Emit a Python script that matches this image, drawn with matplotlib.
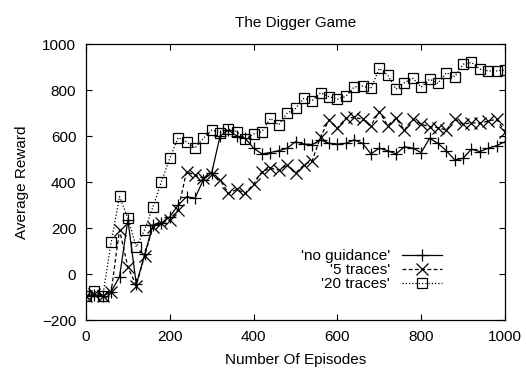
import numpy as np
import matplotlib
matplotlib.use("Agg")
import matplotlib.pyplot as plt

plt.rcParams['font.family'] = ['Liberation Sans', 'DejaVu Sans']

episodes = list(range(0, 1001, 20))

no_guidance = [-96, -90, -95, -77, -12, 235, -45, 85, 215, 220,
               249, 300, 336, 329, 410, 440, 600, 625, 600, 590,
               547, 522, 528, 536, 547, 575, 565, 563, 583, 568,
               565, 568, 583, 568, 522, 547, 536, 522, 553, 547,
               528, 590, 568, 536, 496, 503, 543, 532, 547, 558,
               575]

five_traces = [-96, -85, -96, -77, 191, 30, -50, 80, 206, 220,
               235, 280, 445, 430, 416, 435, 409, 351, 368, 351,
               391, 445, 460, 452, 474, 438, 474, 493, 597, 670,
               634, 677, 681, 673, 645, 706, 645, 677, 626, 673,
               651, 641, 636, 626, 673, 651, 658, 655, 665, 673,
               619]

twenty_traces = [-96, -75, -96, 138, 337, 242, 117, 192, 293, 401,
                 503, 593, 575, 547, 590, 626, 614, 630, 619, 586,
                 609, 619, 677, 648, 699, 720, 764, 754, 788, 771,
                 760, 772, 813, 817, 807, 894, 865, 803, 832, 851,
                 812, 847, 829, 875, 858, 912, 920, 891, 883, 883,
                 887]

x_ticks = [0, 200, 400, 600, 800, 1000]
y_ticks = [-200, 0, 200, 400, 600, 800, 1000]

FS = 11

fig = plt.figure(figsize=(5.26, 3.69), dpi=100)
ax = fig.add_axes([86 / 526, 1 - 320 / 369, (505 - 86) / 526, (320 - 44) / 369])

ax.plot(episodes, no_guidance, color='black', linestyle='-', linewidth=0.9,
        marker='+', markersize=8.5, markeredgewidth=0.9, label="'no guidance'")
ax.plot(episodes, five_traces, color='black', linestyle=(0, (3, 2)), linewidth=0.9,
        marker='x', markersize=8, markeredgewidth=0.9, label="'5 traces'")
ax.plot(episodes, twenty_traces, color='black', linestyle=(0, (1, 1.6)), linewidth=0.9,
        marker='s', markersize=7.5, markerfacecolor='none', markeredgewidth=0.9,
        label="'20 traces'")

ax.set_xlim(0, 1000)
ax.set_ylim(-200, 1000)
ax.set_xticks(x_ticks)
ax.set_yticks(y_ticks)
ax.tick_params(direction='in', length=4, width=0.8, top=True, right=True,
               labelsize=FS, pad=7)
for s in ax.spines.values():
    s.set_linewidth(0.9)

ax.set_title('The Digger Game', fontsize=FS, pad=12)
ax.set_xlabel('Number Of Episodes', fontsize=FS, labelpad=7)
ax.set_ylabel('Average Reward', fontsize=FS, labelpad=9)

ax.legend(loc='lower right', bbox_to_anchor=(0.85, 0.105), frameon=False,
          markerfirst=False, fontsize=FS, handlelength=2.6, handletextpad=0.8,
          labelspacing=0.0, borderaxespad=0.0, borderpad=0.0)

fig.savefig('out.png', dpi=100)
